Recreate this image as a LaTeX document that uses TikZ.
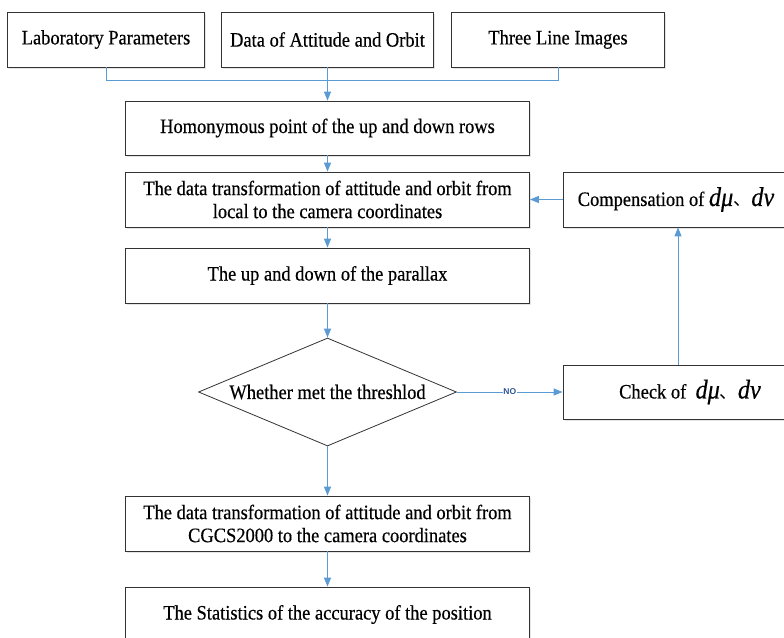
\documentclass[tikz,border=0pt]{standalone}
\usepackage{fontspec}
\setmainfont{Liberation Serif}[FakeStretch=0.9,FakeBold=0.4]
\newfontfamily\cjk{Noto Sans CJK SC}
\newfontfamily\nofont{Liberation Sans}
\usetikzlibrary{arrows.meta,shapes.geometric,shadows}
\definecolor{lineblue}{HTML}{5B9BD5}
\definecolor{noblue}{HTML}{2F5597}
\newcommand{\dmdv}{{\fontsize{27}{27}\selectfont\itshape dμ{\cjk\fontsize{18}{18}\selectfont 、}dν}}
\tikzset{
  box/.style={draw=black!80, line width=0.8pt, fill=white, rectangle, inner sep=0pt,
    align=center, font=\fontsize{20.5}{23}\selectfont,
    drop shadow={opacity=0.2, shadow xshift=1.5pt, shadow yshift=-1.5pt}},
  conn/.style={draw=lineblue, line width=1pt},
  flow/.style={conn, -{Triangle[length=9pt,width=7pt]}},
}
\begin{document}
\begin{tikzpicture}[x=1pt,y=-1pt]
\useasboundingbox (0,0) rectangle (784,637);
\clip (0,0) rectangle (784,637);
\fill[white] (0,0) rectangle (784,637);
% top row
\node[box, minimum width=197pt, minimum height=55pt] (b1) at (106,39.5) {Laboratory Parameters};
\node[box, minimum width=212pt, minimum height=55pt] (b2) at (327.5,39.5) {Data of Attitude and Orbit};
\node[box, minimum width=213pt, minimum height=55pt] (b3) at (558,39.5) {Three Line Images};
% main column
\node[box, minimum width=404pt, minimum height=54pt] (hom) at (327.5,128) {Homonymous point of the up and down rows};
\node[box, minimum width=404pt, minimum height=55pt] (tr1) at (327.5,199.5) {The data transformation of attitude and orbit from\\local to the camera coordinates};
\node[box, minimum width=404pt, minimum height=55pt] (par) at (327.5,275.5) {The up and down of the parallax};
\node[draw=black!80, line width=0.8pt, fill=white, diamond, shape aspect=2.39, inner sep=0pt,
  minimum width=258pt, minimum height=108pt, font=\fontsize{20.5}{23}\selectfont] (dia) at (327.5,392) {Whether met the threshlod};
\node[box, minimum width=404pt, minimum height=55pt] (tr2) at (327.5,523.5) {The data transformation of attitude and orbit from\\CGCS2000 to the camera coordinates};
\node[box, minimum width=404pt, minimum height=55pt] (st) at (327.5,614.5) {The Statistics of the accuracy of the position};
% right column
\node[box, minimum width=226pt, minimum height=55pt] (comp) at (676,199.5) {Compensation of \dmdv};
\node[box, minimum width=254pt, minimum height=54pt] (chk) at (690,392) {Check of\ \ \dmdv};
% connectors
\coordinate (j) at (327.5,80);
\draw[conn] (b1.south) |- (j);
\draw[conn] (b3.south) |- (j);
\draw[flow] (b2.south) -- (hom.north);
\draw[flow] (hom) -- (tr1);
\draw[flow] (tr1) -- (par);
\draw[flow] (par.south) -- (dia.north);
\draw[flow] (dia.south) -- (tr2.north);
\draw[flow] (tr2) -- (st);
\draw[flow] (dia.east) -- node[fill=white, inner sep=0.5pt, text=noblue, font=\nofont\fontsize{8.5}{8.5}\selectfont\bfseries] {NO} (chk.west);
\coordinate (cu) at (678,0);
\draw[flow] (chk.north -| cu) -- (comp.south -| cu);
\draw[flow] (comp.west) -- (tr1.east);
\end{tikzpicture}
\end{document}
